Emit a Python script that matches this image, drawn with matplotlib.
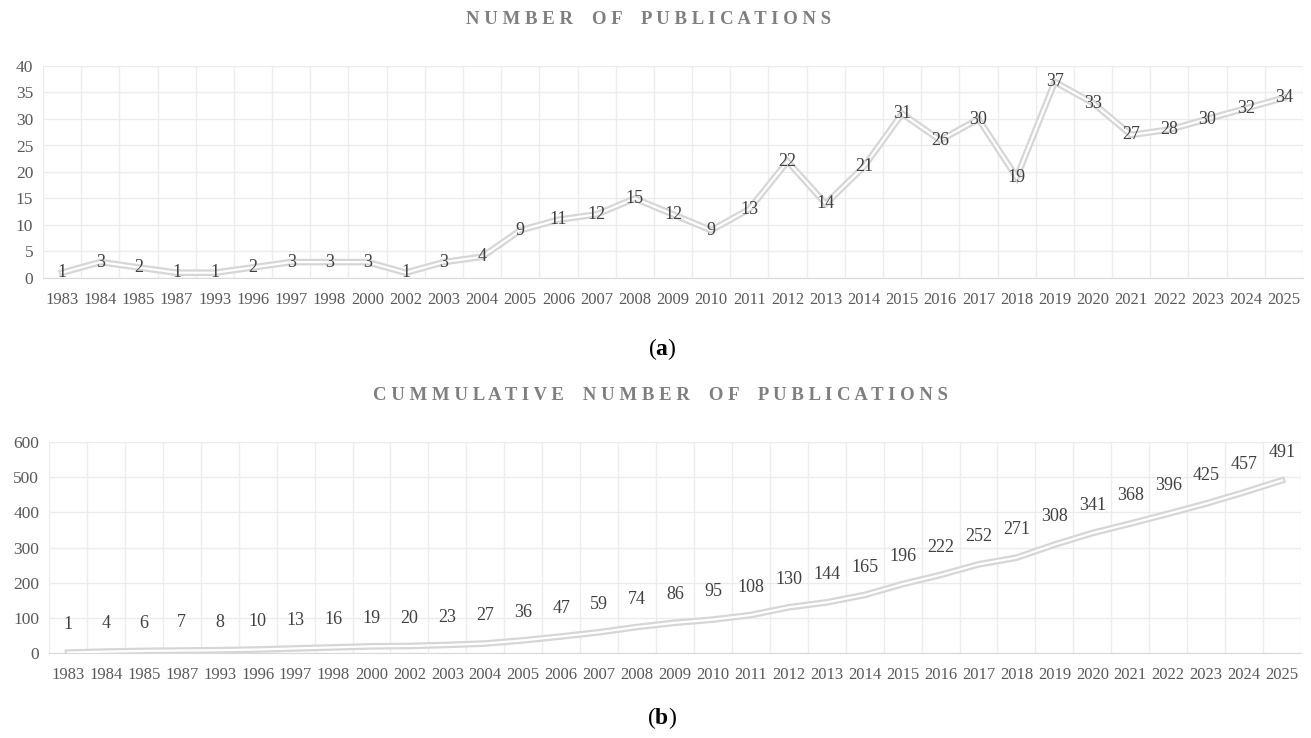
import matplotlib
matplotlib.use("Agg")
import numpy as np
import matplotlib.pyplot as plt

plt.rcParams["font.family"] = ["Liberation Serif", "DejaVu Serif"]
plt.rcParams["mathtext.fontset"] = "custom"
plt.rcParams["mathtext.bf"] = "Liberation Serif:bold"

years = ["1983", "1984", "1985", "1987", "1993", "1996", "1997", "1998", "2000", "2002",
         "2003", "2004", "2005", "2006", "2007", "2008", "2009", "2010", "2011", "2012",
         "2013", "2014", "2015", "2016", "2017", "2018", "2019", "2020", "2021", "2022",
         "2023", "2024", "2025"]
publications = [1, 3, 2, 1, 1, 2, 3, 3, 3, 1, 3, 4, 9, 11, 12, 15, 12, 9, 13, 22,
                14, 21, 31, 26, 30, 19, 37, 33, 27, 28, 30, 32, 34]
cumulative = [1, 4, 6, 7, 8, 10, 13, 16, 19, 20, 23, 27, 36, 47, 59, 74, 86, 95, 108, 130,
              144, 165, 196, 222, 252, 271, 308, 341, 368, 396, 425, 457, 491]

GRID = "#ececec"
AXIS = "#d9d9d9"
LINE = "#d6d6d6"
TXT = "#404040"
TICK = "#595959"
TITLE = "#7f7f7f"

W, H = 1311, 738
fig = plt.figure(figsize=(W / 100, H / 100), dpi=100, facecolor="white")


def box(x0, y0, x1, y1):
    return [x0 / W, 1 - y1 / H, (x1 - x0) / W, (y1 - y0) / H]


def spaced(s):
    return "    ".join(" ".join(w) for w in s.split(" "))


def panel(rect, values, ymax, ystep, label_offset):
    ax = fig.add_axes(rect)
    x = np.arange(len(values))
    ax.set_xlim(-0.5, len(values) - 0.5)
    ax.set_ylim(0, ymax)
    ax.set_yticks(np.arange(0, ymax + 1, ystep))
    ax.set_xticks(x)
    ax.set_xticklabels(years)
    ax.set_xticks(np.arange(-0.5, len(values)), minor=True)
    ax.grid(False)
    ax.yaxis.grid(True, color=GRID, lw=1.0)
    ax.xaxis.grid(True, which="minor", color=GRID, lw=1.0)
    ax.set_axisbelow(True)
    for side in ("top", "right", "left"):
        ax.spines[side].set_visible(False)
    ax.spines["bottom"].set_color(AXIS)
    ax.tick_params(which="both", length=0)
    ax.tick_params(axis="x", labelsize=12, labelcolor=TICK, pad=10)
    ax.tick_params(axis="y", labelsize=12.5, labelcolor=TICK, pad=7)
    ax.plot(x, values, color=LINE, lw=4.8, solid_joinstyle="miter", zorder=3)
    ax.plot(x, values, color="white", lw=1.6, solid_joinstyle="miter", zorder=4)
    for xi, v in zip(x, values):
        ax.annotate(str(v), (xi, v), xytext=(0, label_offset), textcoords="offset points",
                    ha="center", va="center", fontsize=13, color=TXT, zorder=5)
    return ax


panel(box(43, 66, 1303, 278), publications, 40, 5, 0)
panel(box(49, 442, 1301, 653), cumulative, 600, 100, 20)

fig.text(649 / W, 1 - 19 / H, spaced("NUMBER OF PUBLICATIONS"), ha="center", va="center",
         fontsize=13.5, color=TITLE, fontweight="bold")
fig.text(660 / W, 1 - 396 / H, spaced("CUMMULATIVE NUMBER OF PUBLICATIONS"), ha="center",
         va="center", fontsize=13.5, color=TITLE, fontweight="bold")
fig.text(662 / W, 1 - 349 / H, r"($\mathbf{a}$)", ha="center", va="center", fontsize=17, color="black")
fig.text(662 / W, 1 - 718 / H, r"($\mathbf{b}$)", ha="center", va="center", fontsize=17, color="black")

fig.savefig("out.png", dpi=100, facecolor="white")
